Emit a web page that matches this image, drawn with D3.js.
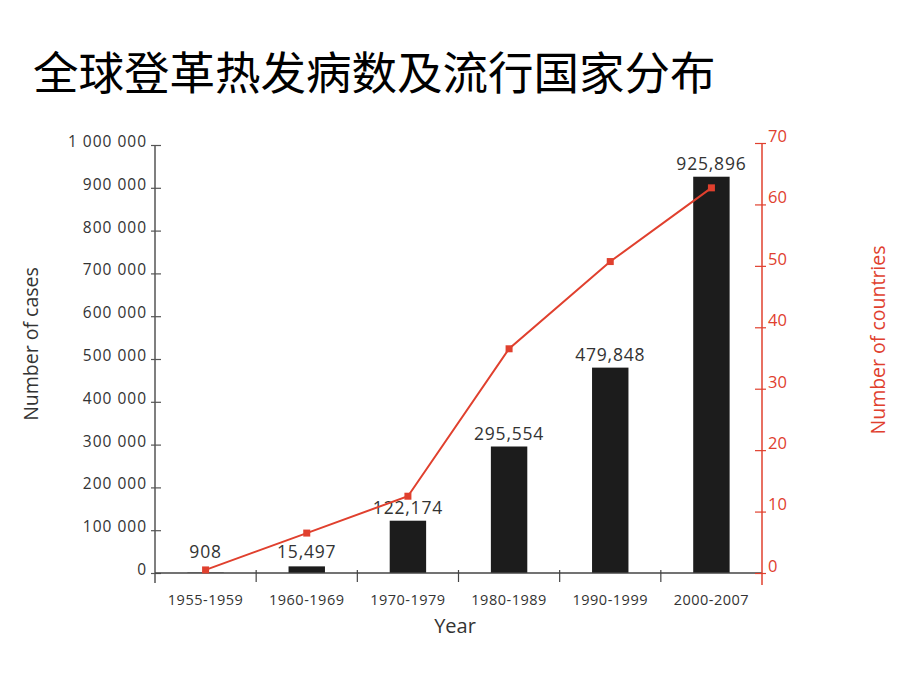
<!DOCTYPE html>
<html><head><meta charset="utf-8">
<script src="https://cdn.jsdelivr.net/npm/d3@7"></script>
<style>body{margin:0;background:#fff}</style>
</head><body>
<svg id="c" width="920" height="690"></svg>
<script>
const title = "全球登革热发病数及流行国家分布";
const categories = ["1955-1959","1960-1969","1970-1979","1980-1989","1990-1999","2000-2007"];
const cases = [908, 15497, 122174, 295554, 479848, 925896];
const caseLabels = ["908","15,497","122,174","295,554","479,848","925,896"];
const countries = [0.5, 6.5, 12.5, 36.5, 50.7, 62.7];
const leftTicks = [0,100000,200000,300000,400000,500000,600000,700000,800000,900000,1000000];
const rightTicks = [0,10,20,30,40,50,60,70];

const svg = d3.select("#c");
const L = 155, R = 762, T = 145, B = 573;
const font = "'Open Sans', 'DejaVu Sans', sans-serif";
const red = "#e0402e", dark = "#333";

const x = d3.scaleBand().domain(categories).range([L, R]).paddingInner(0.64).paddingOuter(0.32);
const xb = d3.scaleBand().domain(categories).range([L, R]);
const y = d3.scaleLinear().domain([0, 1000000]).range([B, T]);
const y2 = d3.scaleLinear().domain([0, 70]).range([B, 143]);

svg.append("text").attr("x", 33).attr("y", 90).attr("font-family", "'Noto Sans CJK SC'")
  .attr("font-size", 45.5).attr("fill", "#000").text(title);

// bars
svg.selectAll("rect.bar").data(cases).join("rect").attr("class","bar")
  .attr("x", (d,i) => x(categories[i])).attr("width", x.bandwidth())
  .attr("y", d => y(d)).attr("height", d => B - y(d)).attr("fill", "#1c1c1c");

// bar labels
svg.selectAll("text.bl").data(cases).join("text").attr("class","bl")
  .attr("x", (d,i) => x(categories[i]) + x.bandwidth()/2)
  .attr("y", d => Math.min(y(d) - 7, B - 15))
  .attr("text-anchor","middle").attr("font-family", font).attr("font-size", 17.5)
  .attr("letter-spacing", 0.8).attr("fill", dark)
  .text((d,i) => caseLabels[i]);

// left axis
const la = svg.append("g").attr("transform", `translate(${L},0)`)
  .call(d3.axisLeft(y).tickValues(leftTicks).tickSizeInner(4).tickSizeOuter(0)
    .tickFormat(d => d3.format(",")(d).replace(/,/g, " ")));
la.select(".domain").remove();
la.append("line").attr("x1",0).attr("x2",0).attr("y1",T).attr("y2",B+10).attr("stroke","#555").attr("stroke-width",1.5);
la.selectAll(".tick line").attr("x1", 6).attr("stroke","#555").attr("stroke-width",1.2);
la.selectAll(".tick text").attr("x", -8).attr("dy","0.1em").attr("font-family", font).attr("font-size", 15.5)
  .attr("letter-spacing", 1).attr("fill", dark);

// x axis
const xa = svg.append("g").attr("transform", `translate(0,${B})`);
xa.append("line").attr("x1", L).attr("x2", R).attr("stroke","#444").attr("stroke-width",1.5);
xa.selectAll("line.t").data(categories.slice(1)).join("line").attr("class","t")
  .attr("x1", d => xb(d)).attr("x2", d => xb(d)).attr("y1", -3).attr("y2", 9).attr("stroke","#444").attr("stroke-width",1.2);
xa.selectAll("text").data(categories).join("text")
  .attr("x", d => xb(d) + xb.bandwidth()/2).attr("y", 32).attr("text-anchor","middle")
  .attr("font-family", font).attr("font-size", 14.5).attr("letter-spacing", 0.5).attr("fill", dark).text(d => d);

// right axis
const ra = svg.append("g").attr("transform", `translate(${R},0)`)
  .call(d3.axisRight(y2).tickValues(rightTicks).tickSizeInner(4).tickSizeOuter(0));
ra.select(".domain").remove();
ra.append("line").attr("x1",0).attr("x2",0).attr("y1",143).attr("y2",B+12).attr("stroke",red).attr("stroke-width",1.5);
ra.selectAll(".tick line").attr("x1", -7).attr("stroke",red).attr("stroke-width",1.2);
ra.selectAll(".tick text").attr("x", 6).attr("dy","-0.1em").attr("font-family", font).attr("font-size", 16.5).attr("fill", red);

// line
const cx = (i) => x(categories[i]) + x.bandwidth()/2;
svg.append("path").datum(countries)
  .attr("d", d3.line().x((d,i) => cx(i)).y(d => y2(d)))
  .attr("fill","none").attr("stroke", red).attr("stroke-width", 2);
svg.selectAll("rect.m").data(countries).join("rect").attr("class","m")
  .attr("x", (d,i) => cx(i) - 3.5).attr("y", d => y2(d) - 3.5).attr("width", 7).attr("height", 7).attr("fill", red);

// axis titles
svg.append("text").attr("x", 455).attr("y", 633).attr("text-anchor","middle")
  .attr("font-family", font).attr("font-size", 20).attr("fill", dark).text("Year");
svg.append("text").attr("transform","translate(38,344) rotate(-90)").attr("text-anchor","middle")
  .attr("font-family", font).attr("font-size", 19.5).attr("fill", dark).text("Number of cases");
svg.append("text").attr("transform","translate(885,340) rotate(-90)").attr("text-anchor","middle")
  .attr("font-family", font).attr("font-size", 19.5).attr("fill", red).text("Number of countries");
</script>
</body></html>
